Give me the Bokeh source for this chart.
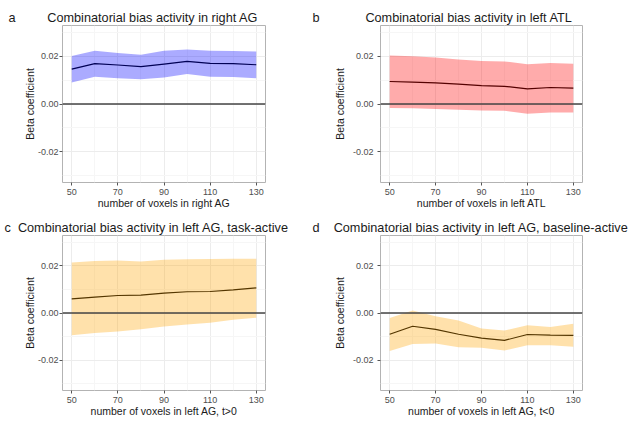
from bokeh.plotting import figure
from bokeh.layouts import gridplot
from bokeh.models import Range1d, FixedTicker, Span, Title, NumeralTickFormatter
from bokeh.embed import file_html
from bokeh.resources import INLINE

# ---- data ----
voxels = [50, 60, 70, 80, 90, 100, 110, 120, 130]

a_mean = [0.0146, 0.0169, 0.0163, 0.0156, 0.0167, 0.0178, 0.0170, 0.0169, 0.0164]
a_upper = [0.0201, 0.0222, 0.0213, 0.0206, 0.0222, 0.0228, 0.0222, 0.0221, 0.0219]
a_lower = [0.0090, 0.0114, 0.0108, 0.0103, 0.0111, 0.0125, 0.0114, 0.0113, 0.0108]

b_mean = [0.0094, 0.0091, 0.0088, 0.0083, 0.0077, 0.0074, 0.0063, 0.0069, 0.0066]
b_upper = [0.0203, 0.0200, 0.0194, 0.0186, 0.0180, 0.0178, 0.0166, 0.0171, 0.0168]
b_lower = [-0.0017, -0.0018, -0.0021, -0.0024, -0.0027, -0.0028, -0.0041, -0.0035, -0.0035]

c_mean = [0.0060, 0.0067, 0.0074, 0.0076, 0.0084, 0.0090, 0.0091, 0.0098, 0.0106]
c_upper = [0.0214, 0.0220, 0.0222, 0.0218, 0.0225, 0.0228, 0.0229, 0.0230, 0.0230]
c_lower = [-0.0094, -0.0085, -0.0078, -0.0069, -0.0057, -0.0049, -0.0041, -0.0029, -0.0020]

d_mean = [-0.0090, -0.0056, -0.0069, -0.0090, -0.0106, -0.0116, -0.0091, -0.0094, -0.0095]
d_upper = [-0.0021, 0.0011, -0.0014, -0.0032, -0.0066, -0.0074, -0.0052, -0.0059, -0.0046]
d_lower = [-0.0161, -0.0131, -0.0129, -0.0145, -0.0147, -0.0159, -0.0136, -0.0136, -0.0143]

titles = [
    "Combinatorial bias activity in right AG",
    "Combinatorial bias activity in left ATL",
    "Combinatorial bias activity in left AG, task-active",
    "Combinatorial bias activity in left AG, baseline-active",
]
xlabels = [
    "number of voxels in right AG",
    "number of voxels in left ATL",
    "number of voxels in left AG, t>0",
    "number of voxels in left AG, t<0",
]
letters = ["a", "b", "c", "d"]
x_ticks = [50, 70, 90, 110, 130]
x_minor = [60, 80, 100, 120]
y_ticks = [-0.02, 0.0, 0.02]
y_minor = [-0.03, -0.01, 0.01, 0.03]

FONT = "Liberation Sans"
NBSP = "\u00a0"
fills = ["#0000ff", "#ff0000", "#ffa500", "#ffa500"]
means = [a_mean, b_mean, c_mean, d_mean]
uppers = [a_upper, b_upper, c_upper, d_upper]
lowers = [a_lower, b_lower, c_lower, d_lower]

# layout geometry per panel:
# (width, height, left, right, top, bottom, title offset, gap spaces, ylabel standoffs)
geom = [
    (311, 212, 62, 46, 25, 30, -54, 9, 1, -1),
    (327, 212, 69, 56, 25, 30, -68, 13, 4, 4),
    (311, 212, 62, 46, 23, 32, -58, 2, 1, -1),
    (327, 212, 69, 56, 21, 34, -68, 4, 4, 4),
]

figs = []
for i in range(4):
    w, h, bl, br, bt, bb, toff, gap, ytick_so, ylab_so = geom[i]
    p = figure(width=w, height=h, output_backend="svg", toolbar_location=None,
               x_range=Range1d(46, 134), y_range=Range1d(-0.0328, 0.0328),
               min_border_left=bl, min_border_right=br,
               min_border_top=bt, min_border_bottom=bb,
               background_fill_color="white", border_fill_color="white",
               outline_line_color="#b3b3b3", outline_line_width=1)
    p.title = Title(text=letters[i] + NBSP * gap + titles[i], align="left", offset=toff,
                    text_font=FONT, text_font_size="12.7px",
                    text_font_style="normal", text_color="#1a1a1a", standoff=2)
    p.xaxis.ticker = FixedTicker(ticks=x_ticks, minor_ticks=x_minor)
    p.yaxis.ticker = FixedTicker(ticks=y_ticks, minor_ticks=y_minor)
    p.yaxis.formatter = NumeralTickFormatter(format="0.00")
    for ax in (p.xaxis[0], p.yaxis[0]):
        ax.axis_line_color = None
        ax.major_tick_line_color = "#555555"
        ax.major_tick_out = 3
        ax.major_tick_in = 0
        ax.minor_tick_out = 0
        ax.minor_tick_in = 0
        ax.major_label_text_font = FONT
        ax.major_label_text_font_size = "9px"
        ax.major_label_text_color = "#4d4d4d"
        ax.axis_label_text_font = FONT
        ax.axis_label_text_font_size = "10.5px"
        ax.axis_label_text_font_style = "normal"
        ax.axis_label_text_color = "#1a1a1a"
    p.xaxis.major_label_standoff = 3
    p.yaxis.major_label_standoff = ytick_so
    p.xaxis.axis_label_standoff = -1
    p.yaxis.axis_label_standoff = ylab_so
    p.xaxis.axis_label = xlabels[i]
    p.yaxis.axis_label = "Beta coefficient"
    p.xgrid.grid_line_color = "#ececec"
    p.ygrid.grid_line_color = "#ececec"
    p.xgrid.minor_grid_line_color = "#f6f6f6"
    p.ygrid.minor_grid_line_color = "#f6f6f6"

    p.add_layout(Span(location=0, dimension="width", line_color="#444444", line_width=1.4))
    p.line(voxels, means[i], line_color="black", line_width=1.2)
    p.varea(x=voxels, y1=lowers[i], y2=uppers[i], fill_color=fills[i], fill_alpha=0.33)
    figs.append(p)

grid = gridplot([[figs[0], figs[1]], [figs[2], figs[3]]], toolbar_location=None)
open("out.html", "w").write(file_html(grid, INLINE))
